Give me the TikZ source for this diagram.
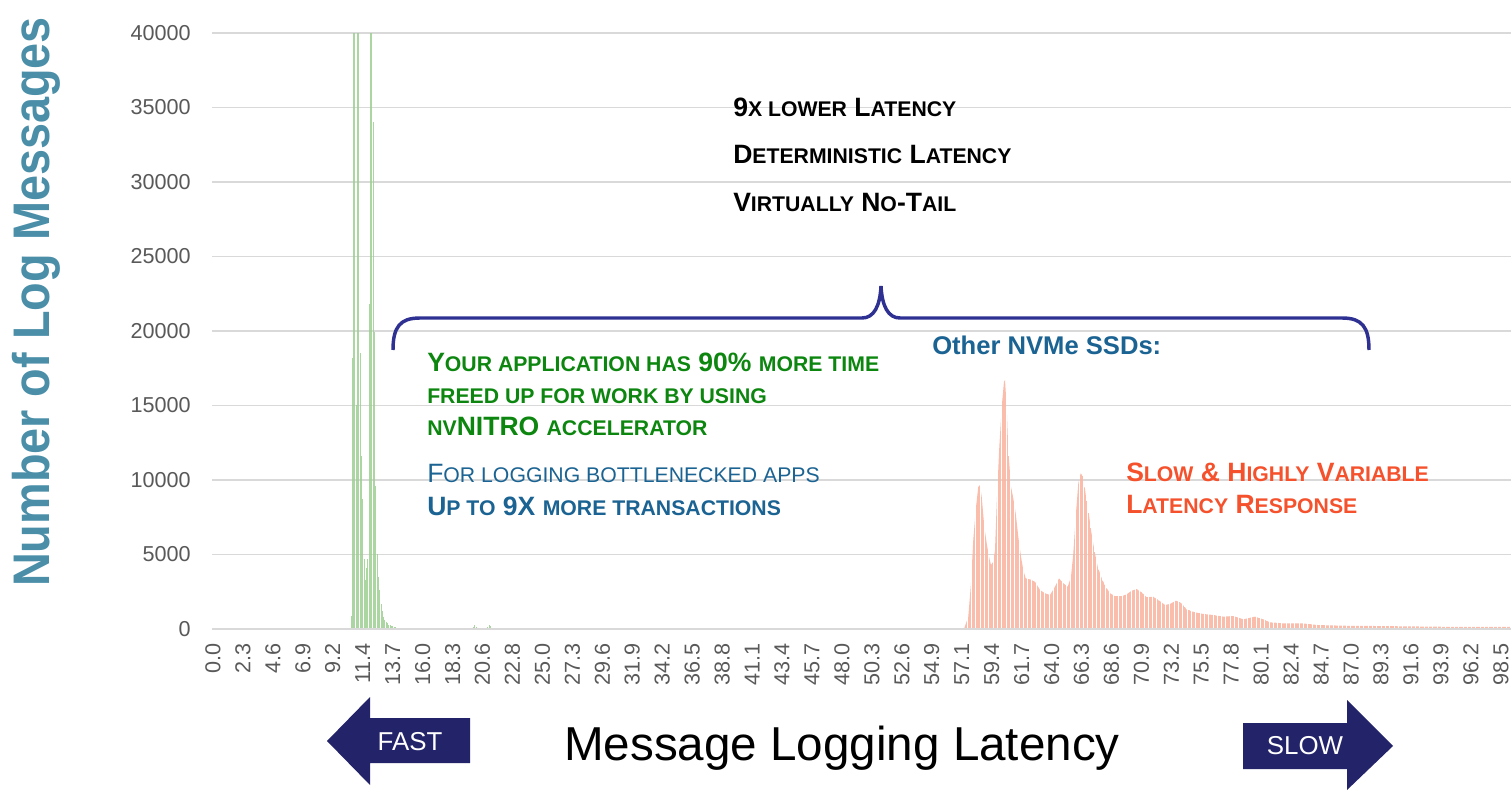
\documentclass[tikz,border=0pt]{standalone}
\usepackage{fontspec}
\setmainfont{Liberation Sans}
\usepackage{graphicx}
\definecolor{gridgray}{HTML}{D9D9D9}
\definecolor{tickgray}{HTML}{595959}
\definecolor{titleteal}{HTML}{4A8EA8}
\definecolor{ssdblue}{HTML}{1B6392}
\definecolor{nvgreen}{HTML}{0C860F}
\definecolor{slowred}{HTML}{F4512C}
\definecolor{navy}{HTML}{23236A}
\definecolor{bracenavy}{HTML}{2E3192}
\definecolor{greenbar}{HTML}{9CCF91}
\definecolor{redbar}{HTML}{F9B6A3}
\newcommand{\smc}[1]{\scalebox{0.8}{#1}}
\newcommand{\fsz}[1]{\fontsize{#1pt}{#1pt}\selectfont}

\begin{document}
\begin{tikzpicture}[x=0.75pt,y=-0.75pt,
    grid line/.style={draw=gridgray,line width=1.1pt},
    ytick/.style={anchor=east,inner sep=0,text=tickgray,font=\fsz{16.2}},
    xtick/.style={anchor=east,rotate=90,inner sep=0,text=tickgray,font=\fsz{16.2}},
    note/.style={anchor=base west,inner sep=0,font=\bfseries\fsz{19.9}},
    plain note/.style={anchor=base west,inner sep=0,font=\fsz{19.9}},
    arrow text/.style={text=white,inner sep=0,font=\fsz{19.4}}]
  \useasboundingbox (0,0) rectangle (1511,791);

  % grid
  \foreach \k in {1,...,8}
    \draw[grid line] (212,{629-\k*74.5}) -- (1511,{629-\k*74.5});
  \foreach \v [count=\k from 0] in {0,5000,10000,15000,20000,25000,30000,35000,40000}
    \node[ytick] (y\k) at (191,{629-\k*74.5}) {\v};
  \foreach \l [count=\i from 0] in {0.0,2.3,4.6,6.9,9.2,11.4,13.7,16.0,18.3,20.6,22.8,25.0,27.3,29.6,31.9,34.2,36.5,38.8,41.1,43.4,45.7,48.0,50.3,52.6,54.9,57.1,59.4,61.7,64.0,66.3,68.6,70.9,73.2,75.5,77.8,80.1,82.4,84.7,87.0,89.3,91.6,93.9,96.2,98.5}
    \node[xtick] (x\i) at ({213+\i*29.95},643) {\l};

  % histograms, heights in thousands
  \begin{scope}[shift={(0,629)},yscale=-14.9]
    \foreach \c/\v in {106/0.9,107/18.2,108/40,109/40,110/15,111/40,112/40,113/18.5,114/11.6,115/8.7,116/4.7,117/3.3,118/4.1,119/4.7,120/21.8,121/40,122/40,123/34,124/19.9,125/9.6,126/5.0,127/3.5,128/2.6,129/1.7,130/1.2,131/0.8,132/0.6,133/0.5,134/0.4,135/0.3,136/0.3,137/0.2,138/0.2,139/0.15,140/0.15,141/0.1,142/0.1,143/0.08,144/0.08,200/0.15,201/0.25,202/0.15,211/0.15,212/0.3,213/0.2}
      \fill[greenbar,opacity=0.85] ({213+\c*1.302-0.45},0) rectangle ++(0.9,\v);
    \begin{scope}
      \clip (964,0) -- (968.3,0.83) -- (971,3.1) -- (973.3,6.0) -- (975.7,8.0) -- (978.3,9.55) -- (980,9.66) -- (981.7,8.88) -- (984.3,6.87) -- (986.7,5.75) -- (989,4.85) -- (991,4.3) -- (993.3,4.52) -- (995,5.3) -- (996.7,8.44) -- (999.3,12.23) -- (1001.7,14.92) -- (1004,16.6) -- (1005,16.7) -- (1006.7,14.9) -- (1008.3,12.0) -- (1011,9.55) -- (1013.3,8.77) -- (1015.7,7.76) -- (1018.3,6.19) -- (1021,4.85) -- (1023.3,3.96) -- (1025.7,3.4) -- (1030,3.33) -- (1035,3.17) -- (1040,2.62) -- (1045,2.4) -- (1050,2.28) -- (1055,2.84) -- (1059,3.4) -- (1063.3,3.07) -- (1067.7,2.84) -- (1071,3.51) -- (1073.3,5.08) -- (1075.7,7.54) -- (1078.3,9.78) -- (1080.7,10.45) -- (1083.3,10.22) -- (1086,8.88) -- (1088.3,7.99) -- (1091,6.64) -- (1094.3,5.3) -- (1097.7,4.18) -- (1101.7,3.4) -- (1105.7,2.84) -- (1110,2.4) -- (1115,2.2) -- (1121.7,2.2) -- (1126.7,2.33) -- (1131.7,2.57) -- (1136.7,2.68) -- (1141.7,2.46) -- (1146.7,2.13) -- (1153.3,2.17) -- (1158.3,1.95) -- (1165,1.61) -- (1170,1.68) -- (1176,1.9) -- (1180.7,1.77) -- (1186.7,1.32) -- (1195,1.12) -- (1203.3,1.01) -- (1213.3,0.94) -- (1223.3,0.83) -- (1233.3,0.87) -- (1243.3,0.65) -- (1255,0.83) -- (1263.3,0.65) -- (1270,0.45) -- (1283.3,0.38) -- (1303.3,0.38) -- (1316.7,0.27) -- (1343.3,0.22) -- (1376.7,0.2) -- (1443.3,0.15) -- (1511,0.15) -- (1511,0) -- cycle;
      \foreach \c in {576,...,997}
        \fill[redbar,opacity=0.9] ({213+\c*1.302-0.45},0) rectangle ++(0.9,20);
    \end{scope}
  \end{scope}
  \draw[grid line] (212,629) -- (1511,629);

  % axis titles
  \node[rotate=90,anchor=base,inner sep=0,text=titleteal,font=\bfseries\fsz{38.6}] (ytitle) at (50,302) {\scalebox{0.91}[1]{Number of Log Messages}};
  \node[anchor=base,inner sep=0,font=\fsz{35.7}] (xtitle) at (842,760) {Message Logging Latency};

  % fast / slow arrows
  \fill[navy] (327,741) -- (370,697) -- (370,718) -- (470,718) -- (470,763) -- (370,763) -- (370,785) -- cycle;
  \node[arrow text] (fast) at (410,742) {FAST};
  \fill[navy] (1393,746) -- (1347,700) -- (1347,723) -- (1243,723) -- (1243,769) -- (1347,769) -- (1347,790) -- cycle;
  \node[arrow text] (slow) at (1305,746) {SLOW};

  % brace
  \draw[bracenavy,line width=2.6pt] (393,350) .. controls (393,327) and (400,318) .. (420,318) -- (862,318) .. controls (874,318) and (880,306) .. (881,286) .. controls (882,306) and (888,318) .. (900,318) -- (1342,318) .. controls (1362,318) and (1369,327) .. (1369,350);

  % notes
  \node[note] (lower) at (733,117) {9\smc{X LOWER} L\smc{ATENCY}};
  \node[note] (determ) at (733,164) {D\smc{ETERMINISTIC} L\smc{ATENCY}};
  \node[note] (notail) at (733,212) {V\smc{IRTUALLY} N\smc{O}-T\smc{AIL}};

  \node[note,text=nvgreen] (gain1) at (427,372) {Y\smc{OUR APPLICATION HAS} 90\% \smc{MORE TIME}};
  \node[note,text=nvgreen] (gain2) at (427,404) {\smc{FREED UP FOR WORK BY USING}};
  \node[note,text=nvgreen] (gain3) at (427,436) {\smc{NV}NITRO \smc{ACCELERATOR}};

  \node[plain note,text=ssdblue] (apps1) at (427,483) {F\smc{OR LOGGING BOTTLENECKED APPS}};
  \node[note,text=ssdblue] (apps2) at (427,516) {U\smc{P TO} 9X \smc{MORE TRANSACTIONS}};

  \node[note,text=ssdblue,font=\bfseries\fsz{19.2}] (others) at (932,355) {Other NVMe SSDs:};

  \node[note,text=slowred] (slow1) at (1126,482) {S\smc{LOW} \& H\smc{IGHLY} V\smc{ARIABLE}};
  \node[note,text=slowred] (slow2) at (1126,514) {L\smc{ATENCY} R\smc{ESPONSE}};
\end{tikzpicture}
\end{document}
